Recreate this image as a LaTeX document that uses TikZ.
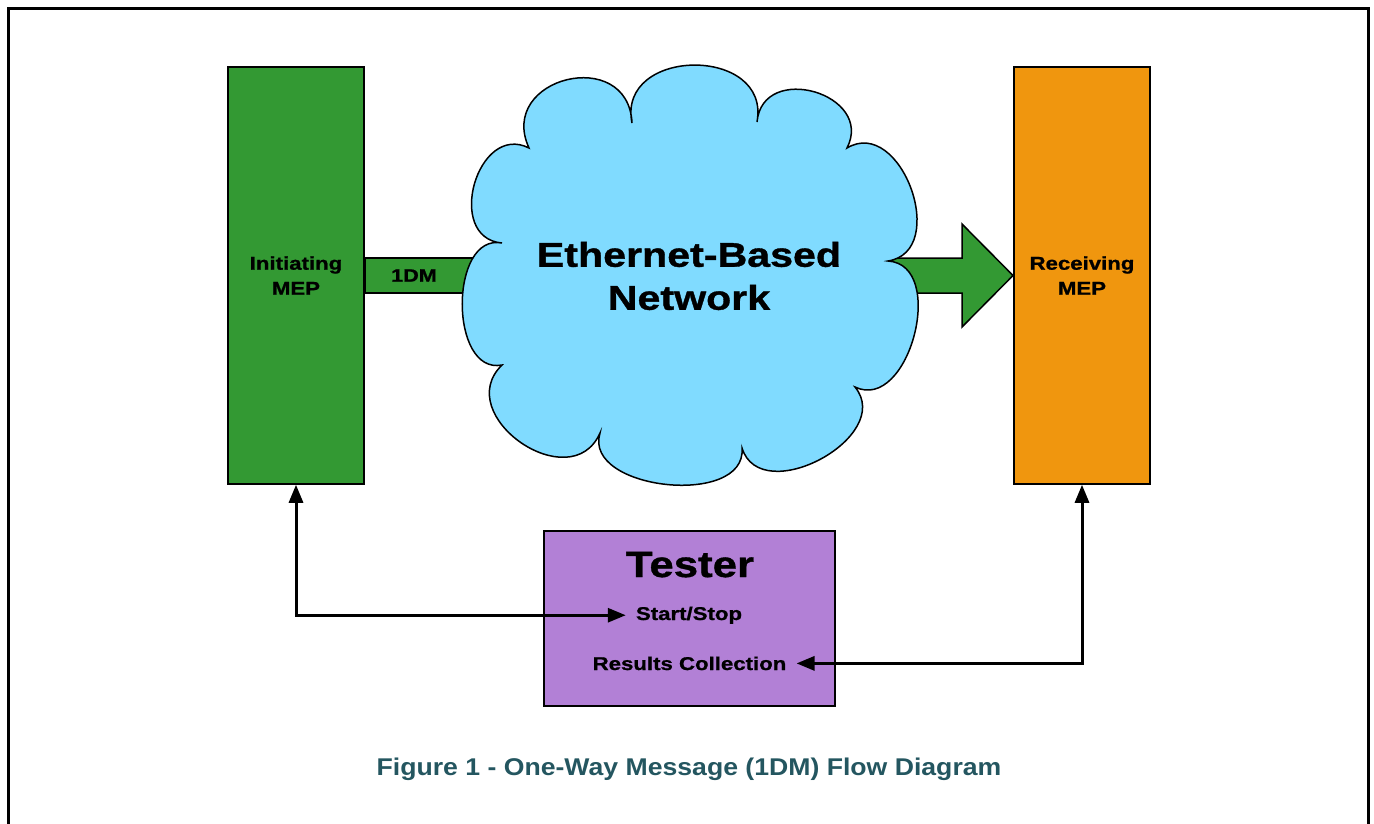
\documentclass[tikz,border=0pt]{standalone}
\usepackage{fontspec}
\setmainfont{Liberation Sans}
\newfontfamily\wfont{Liberation Sans}[FakeStretch=1.2,FakeBold=1]
\newfontfamily\capfont{Liberation Sans}[FakeStretch=1.1]
\usetikzlibrary{calc,arrows.meta}
\definecolor{mepgreen}{RGB}{51,153,51}
\definecolor{meporange}{RGB}{240,150,14}
\definecolor{cloudblue}{RGB}{128,219,255}
\definecolor{testerpurple}{RGB}{178,128,214}
\definecolor{captionteal}{RGB}{36,86,96}
\tikzset{
  mepbox/.style={draw=black, line width=1.5pt, minimum width=136pt, minimum height=417pt, inner sep=0pt, align=center, font=\wfont\bfseries\fontsize{18.5}{25}\selectfont},
  smalltxt/.style={inner ysep=0pt, inner xsep=10pt, font=\wfont\bfseries\fontsize{18.5}{21}\selectfont},
  conn/.style={line width=3pt, {Triangle[length=18pt,width=14pt]}-{Triangle[length=18pt,width=14pt]}},
  shapeline/.style={draw=black, line width=1.5pt, line join=miter}
}
\begin{document}
\begin{tikzpicture}[x=1pt,y=-1pt]
\useasboundingbox (0,0) rectangle (1374,823);
% outer frame
\draw[line width=3pt] (8,830) -- (8,8) -- (1368,8) -- (1368,830);

% 1DM bar (behind the cloud)
\node[shapeline, fill=mepgreen, minimum width=130pt, minimum height=35pt, inner sep=0pt, anchor=west] (bar) at (364,275.5) {};
\node[inner sep=0pt, font=\wfont\bfseries\fontsize{18}{21}\selectfont] (dm) at (414,275.5) {1DM};

% big arrow into receiving MEP (behind the cloud)
\coordinate (a0) at (870,258);
\coordinate (a1) at (962,258);
\coordinate (a2) at (962,224);
\coordinate (a3) at (1013,275.5);
\coordinate (a4) at (962,327);
\coordinate (a5) at (962,293);
\coordinate (a6) at (870,293);
\draw[shapeline, fill=mepgreen] (a0) -- (a1) -- (a2) -- (a3) -- (a4) -- (a5) -- (a6) -- cycle;

% cloud
\coordinate (c1) at (529,148);
\coordinate (c2) at (632,123);
\coordinate (c3) at (757,122);
\coordinate (c4) at (847,148);
\coordinate (c5) at (888,261);
\coordinate (c6) at (855,387);
\coordinate (c7) at (742,448);
\coordinate (c8) at (600,433);
\coordinate (c9) at (502,365);
\coordinate (c10) at (502,243);
\def\ang{101}
\draw[fill=cloudblue, draw=black, line width=1.5pt]
 (c1) .. controls ($(c1)!78pt!\ang:(c2)$) and ($(c2)!78pt!-\ang:(c1)$) .. (c2)
      .. controls ($(c2)!78pt!\ang:(c3)$) and ($(c3)!78pt!-\ang:(c2)$) .. (c3)
      .. controls ($(c3)!61pt!\ang:(c4)$) and ($(c4)!61pt!-\ang:(c3)$) .. (c4)
      .. controls ($(c4)!63pt!\ang:(c5)$) and ($(c5)!63pt!-\ang:(c4)$) .. (c5)
      .. controls ($(c5)!60pt!\ang:(c6)$) and ($(c6)!60pt!-\ang:(c5)$) .. (c6)
      .. controls ($(c6)!64pt!\ang:(c7)$) and ($(c7)!64pt!-\ang:(c6)$) .. (c7)
      .. controls ($(c7)!60pt!\ang:(c8)$) and ($(c8)!60pt!-\ang:(c7)$) .. (c8)
      .. controls ($(c8)!72pt!\ang:(c9)$) and ($(c9)!72pt!-\ang:(c8)$) .. (c9)
      .. controls ($(c9)!54pt!\ang:(c10)$) and ($(c10)!54pt!-\ang:(c9)$) .. (c10)
      .. controls ($(c10)!58pt!\ang:(c1)$) and ($(c1)!58pt!-\ang:(c10)$) .. (c1) -- cycle;
\node[align=center, inner sep=0pt, font=\wfont\bfseries\fontsize{34.3}{43}\selectfont] (net) at (689,276) {Ethernet-Based\\Network};

% MEP boxes
\node[mepbox, fill=mepgreen] (init) at (296,275.5) {Initiating\\MEP};
\node[mepbox, fill=meporange] (recv) at (1082,275.5) {Receiving\\MEP};

% tester
\node[draw=black, line width=1.5pt, fill=testerpurple, minimum width=291pt, minimum height=175pt, inner sep=0pt] (tester) at (689.5,618.5) {};
\node[anchor=base, inner sep=0pt, font=\wfont\bfseries\fontsize{36.5}{40}\selectfont] (ttl) at (690,577) {Tester};
\node[smalltxt, anchor=base] (ss) at (689,620) {Start/Stop};
\node[smalltxt, anchor=base] (rc) at (689.5,670) {Results Collection};

% connectors
\draw[conn] (init.south) |- (ss.west);
\draw[conn] (recv.south) |- (rc.east);

% caption
\node[anchor=base, inner sep=0pt, text=captionteal, font=\capfont\bfseries\fontsize{24.2}{28}\selectfont] (cap) at (689,775) {Figure 1 - One-Way Message (1DM) Flow Diagram};
\end{tikzpicture}
\end{document}
